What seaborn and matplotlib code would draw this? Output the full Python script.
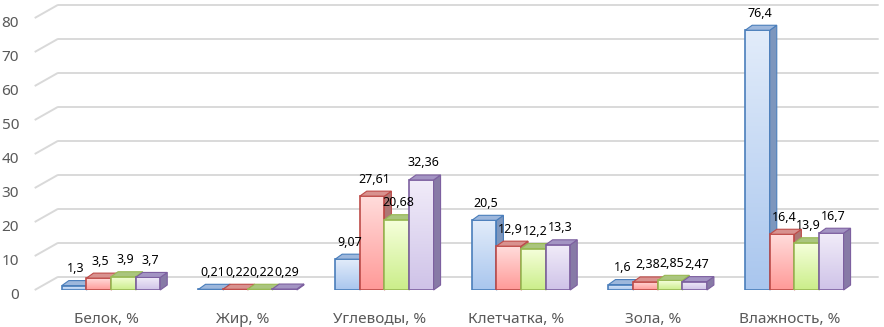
import numpy as np
import pandas as pd
import matplotlib
matplotlib.use("Agg")
import matplotlib.pyplot as plt
from matplotlib.patches import Polygon
from matplotlib.colors import to_rgb
import matplotlib.transforms as mtrans
import seaborn as sns

# Data
categories = ["Белок, %", "Жир, %", "Углеводы, %", "Клетчатка, %", "Зола, %", "Влажность, %"]
series = ["s1", "s2", "s3", "s4"]
s1 = [1.3, 0.21, 9.07, 20.5, 1.6, 76.4]
s2 = [3.5, 0.22, 27.61, 12.9, 2.38, 16.4]
s3 = [3.9, 0.22, 20.68, 12.2, 2.85, 13.9]
s4 = [3.7, 0.29, 32.36, 13.3, 2.47, 16.7]
labels = [["1,3", "0,21", "9,07", "20,5", "1,6", "76,4"],
          ["3,5", "0,22", "27,61", "12,9", "2,38", "16,4"],
          ["3,9", "0,22", "20,68", "12,2", "2,85", "13,9"],
          ["3,7", "0,29", "32,36", "13,3", "2,47", "16,7"]]

df = pd.DataFrame({
    "category": categories * 4,
    "series": np.repeat(series, len(categories)),
    "value": s1 + s2 + s3 + s4,
})

# colours: edge, front top, front bottom, top face, side face
styles = [
    ("#4a7ebb", "#e2ecfa", "#a9c6ee", "#9db7dc", "#7d96bd"),
    ("#be4b48", "#ffdcdb", "#ff9a98", "#d8928f", "#ad7674"),
    ("#98b954", "#f6ffdc", "#cbee8a", "#aac57e", "#8ea46a"),
    ("#7d60a0", "#f1ecf9", "#cfc3e8", "#a394c3", "#877aa6"),
]

sns.set_style("white")
plt.rcParams["font.family"] = ["Noto Sans", "DejaVu Sans"]

fig = plt.figure(figsize=(8.84, 3.27), dpi=100)
ax = fig.add_axes([0.0483, 0.1131, 0.9276, 0.8318])

sns.barplot(data=df, x="category", y="value", hue="series", hue_order=series,
            palette=[s[0] for s in styles], width=0.72, gap=0, legend=False,
            errorbar=None, ax=ax)

ax.set_xlim(-0.5, 5.5)
ax.set_ylim(0, 80)

# pixel -> data units
bb = ax.get_window_extent()
px_x = 6.0 / bb.width
px_y = 80.0 / bb.height
dx, dy = 7 * px_x, 5 * px_y        # bar depth
wx, wy = 15 * px_x, 13 * px_y      # back wall offset

grid_c = "#d9d9d9"
for yv in range(0, 81, 10):
    ax.plot([-0.5 - 8 * px_x, -0.5 + wx], [yv, yv + wy], color=grid_c, lw=1.4,
            clip_on=False, zorder=0.5, solid_capstyle="butt")
    ax.plot([-0.5 + wx, 5.5 + wx], [yv + wy, yv + wy], color=grid_c, lw=1.4,
            clip_on=False, zorder=0.5)

bars = []
for si, cont in enumerate(ax.containers):
    for ci, rect in enumerate(cont):
        bars.append((rect.get_x(), si, ci, rect))
bars.sort(key=lambda b: b[0])

for k, (x0, si, ci, rect) in enumerate(bars):
    edge, ftop, fbot, topc, sidec = styles[si]
    w = rect.get_width()
    h = rect.get_height()
    x1 = x0 + w
    z = 3 + k * 0.1
    grad = np.linspace(np.array(to_rgb(fbot)), np.array(to_rgb(ftop)), 64)[:, None, :]
    im = ax.imshow(grad, extent=[x0, x1, 0, h], origin="lower", aspect="auto",
                   zorder=z, interpolation="bilinear")
    im.set_clip_path(rect)
    rect.set_facecolor("none")
    rect.set_edgecolor(edge)
    rect.set_linewidth(1.2)
    rect.set_zorder(z + 0.01)
    side = Polygon([(x1, 0), (x1, h), (x1 + dx, h + dy), (x1 + dx, dy)],
                   closed=True, facecolor=sidec, edgecolor=edge, lw=0.8,
                   zorder=z + 0.02, clip_on=False)
    top = Polygon([(x0, h), (x1, h), (x1 + dx, h + dy), (x0 + dx, h + dy)],
                  closed=True, facecolor=topc, edgecolor=edge, lw=0.8,
                  zorder=z + 0.02, clip_on=False)
    ax.add_patch(side)
    ax.add_patch(top)
    ax.text(x0 + w / 2 + 2 * px_x, h + 17 * px_y, labels[si][ci], ha="center",
            va="center", fontsize=9, color="black", zorder=20, clip_on=False)

ax.set_xlim(-0.5, 5.5)
ax.set_ylim(0, 80)
ax.set_yticks(range(0, 81, 10))
ax.set_xlabel("")
ax.set_ylabel("")
ax.tick_params(axis="y", length=0, pad=17, labelsize=11, labelcolor="#595959")
ax.tick_params(axis="x", length=0, pad=16, labelsize=11, labelcolor="#595959")
shift_x = mtrans.ScaledTranslation(-5 / 100, 0, fig.dpi_scale_trans)
for lbl in ax.get_xticklabels():
    lbl.set_transform(lbl.get_transform() + shift_x)
shift_y = mtrans.ScaledTranslation(0, -3 / 100, fig.dpi_scale_trans)
for lbl in ax.get_yticklabels():
    lbl.set_transform(lbl.get_transform() + shift_y)
sns.despine(ax=ax, left=True, bottom=True)
ax.grid(False)

fig.savefig("out.png", dpi=100)
